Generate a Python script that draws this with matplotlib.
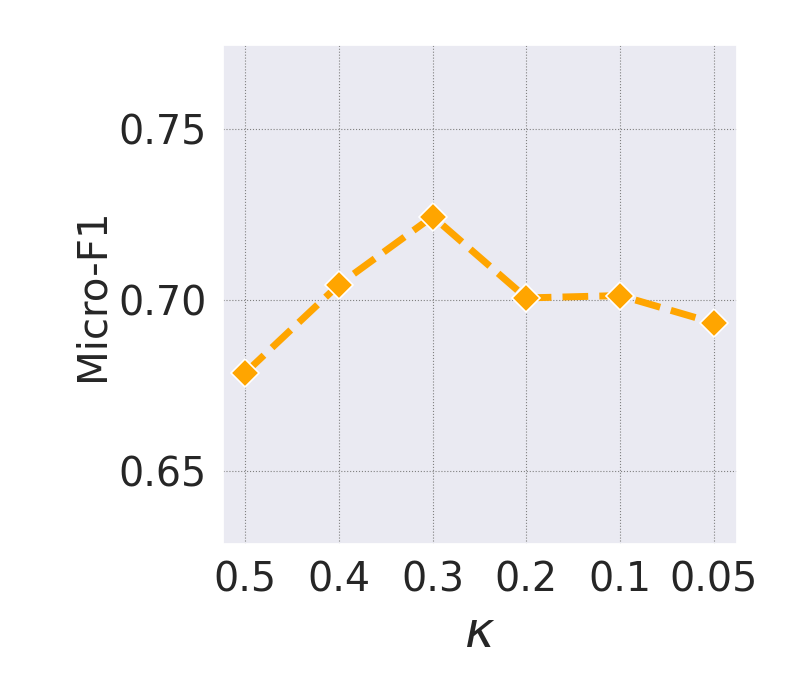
import matplotlib
matplotlib.use("Agg")
import matplotlib.pyplot as plt
import seaborn as sns

categories = ["0.5", "0.4", "0.3", "0.2", "0.1", "0.05"]
micro_f1 = [0.6787, 0.7045, 0.7244, 0.7006, 0.7013, 0.6933]
yticks = [0.65, 0.70, 0.75]

sns.set_theme(style="darkgrid")
plt.rcParams['font.family'] = ['DejaVu Sans']

fig = plt.figure(figsize=(8, 7), dpi=100)
ax = fig.add_axes([0.279, 0.223, 0.642, 0.713])
x = list(range(len(categories)))
ax.plot(x, micro_f1, color='orange', linestyle='--', linewidth=5,
        marker='D', markersize=14, markeredgecolor='white', markeredgewidth=1.2)
ax.set_xticks(x)
ax.set_xticklabels(categories)
ax.set_yticks(yticks)
ax.set_yticklabels([f"{v:.2f}" for v in yticks])
ax.set_xlim(-0.235, 5.245)
ax.set_ylim(0.6287, 0.7746)
ax.grid(True, linestyle=':', color='gray', linewidth=0.8)
ax.tick_params(axis='both', labelsize=28.5, colors='#262626', pad=6)
ax.set_xlabel(r'$\kappa$', fontsize=36, color='#262626', labelpad=6)
ax.set_ylabel('Micro-F1', fontsize=29, color='#262626', labelpad=4)
fig.savefig('out.png', dpi=100)
